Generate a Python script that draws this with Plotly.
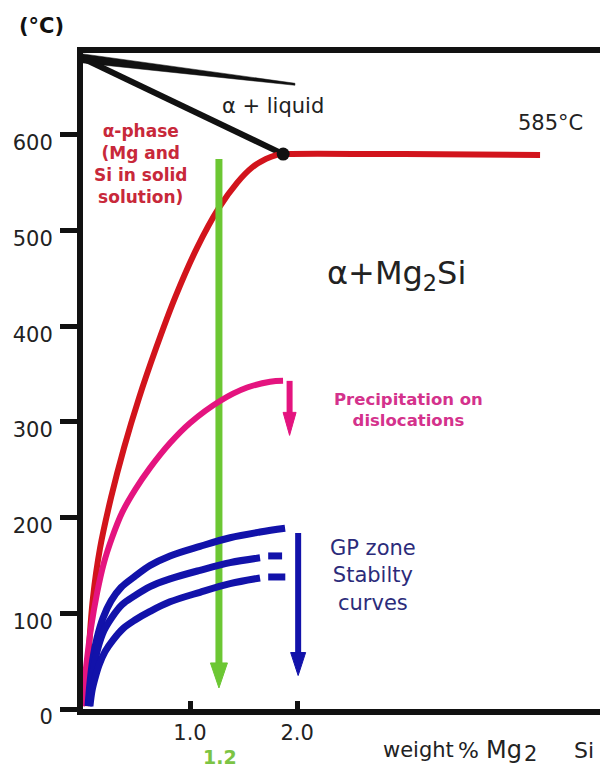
import plotly.graph_objects as go

# ---------------- data ----------------
y_ticks = [0, 100, 200, 300, 400, 500, 600]
x_ticks = [1.0, 2.0]
x_tick_labels = ["1.0", "2.0"]

# melting point of Al and eutectic point
melt_x, melt_y = 0.0, 680
eutectic_x, eutectic_y = 1.87, 580
liquidus_end_x, liquidus_end_y = 1.98, 653

# solvus (red) incl. eutectic horizontal
solvus_x = [0.028, 0.056, 0.093, 0.159, 0.262, 0.383, 0.523, 0.682, 0.860, 1.065,
            1.271, 1.439, 1.579, 1.710, 1.804, 1.869, 3.0, 4.27]
solvus_y = [3, 64, 116, 168, 221, 273, 325, 377, 430, 482,
            524, 550, 566, 575, 579, 580, 580, 579]

# precipitation on dislocations (pink)
precip_x = [-0.009, 0.028, 0.075, 0.131, 0.196, 0.271, 0.364, 0.486, 0.626, 0.813,
            1.0, 1.280, 1.533, 1.748, 1.869]
precip_y = [3, 43, 85, 121, 153, 179, 205, 229, 252, 278,
            299, 322, 336, 342, 343]

# GP zone stability curves (blue)
gp1_x = [0.047, 0.065, 0.093, 0.131, 0.187, 0.262, 0.355, 0.477, 0.626, 0.813,
         1.093, 1.374, 1.654, 1.888]
gp1_y = [3, 27, 53, 74, 95, 113, 127, 138, 150, 160,
         170, 179, 185, 189]
gp2_x = [0.056, 0.075, 0.103, 0.140, 0.196, 0.271, 0.364, 0.477, 0.626, 0.813,
         1.093, 1.374, 1.654]
gp2_y = [3, 24, 45, 64, 82, 96, 109, 118, 128, 136,
         145, 153, 158]
gp3_x = [0.065, 0.084, 0.112, 0.150, 0.206, 0.280, 0.374, 0.486, 0.626, 0.813,
         1.093, 1.374, 1.654]
gp3_y = [3, 19, 32, 46, 60, 72, 84, 93, 102, 112,
         122, 131, 137]
gp2_dash_x = [1.73, 1.86]
gp2_dash_y = [160, 160]
gp3_dash_x = [1.73, 1.89]
gp3_dash_y = [138, 138]

# vertical arrows: x, start y, end (tip) y
green_arrow = (1.27, 575, 22)
pink_arrow = (1.93, 343, 286)
blue_arrow = (2.01, 184, 35)

# ---------------- layout constants ----------------
W, H = 600, 767
ML, MR, MT, MB = 83, 0, 53, 58
PW, PH = W - ML - MR, H - MT - MB
X_MAX = 4.83
Y_MAX = 685.7
PPX = PW / X_MAX
PPY = PH / Y_MAX

FONT = "DejaVu Sans"
BLACK = "#111111"
RED = "#d2141c"
PINK = "#e4147f"
BLUE = "#1212aa"
GREEN = "#6cc733"

fig = go.Figure()


def line(xs, ys, color, width, spline=False):
    fig.add_trace(go.Scatter(
        x=xs, y=ys, mode="lines",
        line=dict(color=color, width=width, shape="spline" if spline else "linear",
                  smoothing=1.0),
        hoverinfo="skip", showlegend=False))


def arrow(spec, color, shaft_w, head_w, head_len):
    x, y0, y1 = spec
    hl = head_len / PPY
    hw = head_w / 2 / PPX
    line([x, x], [y0, y1 + hl * 0.8], color, shaft_w)
    fig.add_trace(go.Scatter(
        x=[x - hw, x + hw, x, x - hw], y=[y1 + hl, y1 + hl, y1, y1 + hl],
        mode="lines", fill="toself", fillcolor=color,
        line=dict(color=color, width=1), hoverinfo="skip", showlegend=False))


# liquidus: tapered black line
t0, t1 = 4.5 / PPY, 1.0 / PPY
fig.add_trace(go.Scatter(
    x=[melt_x, liquidus_end_x, liquidus_end_x, melt_x, melt_x],
    y=[melt_y + t0, liquidus_end_y + t1, liquidus_end_y - t1, melt_y - t0, melt_y + t0],
    mode="lines", fill="toself", fillcolor=BLACK, line=dict(color=BLACK, width=0.5),
    hoverinfo="skip", showlegend=False))

# solidus
line([melt_x, eutectic_x], [melt_y, eutectic_y], BLACK, 6)

# solvus
line(solvus_x, solvus_y, RED, 6, spline=True)

# green 1.2 % arrow
arrow(green_arrow, GREEN, 7, 17, 25)

# precipitation curve + arrow
line(precip_x, precip_y, PINK, 6, spline=True)
arrow(pink_arrow, PINK, 6, 13, 23)

# GP zone curves
line(gp1_x, gp1_y, BLUE, 7, spline=True)
line(gp2_x, gp2_y, BLUE, 7, spline=True)
line(gp3_x, gp3_y, BLUE, 7, spline=True)
line(gp2_dash_x, gp2_dash_y, BLUE, 7)
line(gp3_dash_x, gp3_dash_y, BLUE, 7)
arrow(blue_arrow, BLUE, 6, 15, 23)

# eutectic point
fig.add_trace(go.Scatter(x=[eutectic_x], y=[eutectic_y], mode="markers",
                         marker=dict(color=BLACK, size=13), cliponaxis=False,
                         hoverinfo="skip", showlegend=False))

# y-axis arrowhead
fig.add_trace(go.Scatter(x=[-3 / PPX], y=[Y_MAX + 2.5 / PPY], mode="markers",
                         marker=dict(color=BLACK, size=11, symbol="triangle-up"),
                         cliponaxis=False, hoverinfo="skip", showlegend=False))


def ann(text, px, py, size, color, xanchor="center", yanchor="middle"):
    return dict(text=text, x=(px - ML) / PW, y=(H - MB - py) / PH,
                xref="paper", yref="paper", showarrow=False,
                xanchor=xanchor, yanchor=yanchor,
                font=dict(family=FONT, size=size, color=color))


annotations = [
    ann("<b>(°C)</b>", 41, 26, 21, BLACK),
    ann("α\u00a0+\u00a0liquid", 273, 106, 21, "#222222"),
    ann("585°C", 550, 123, 21, "#222222"),
    ann("α+Mg<sub>2</sub>Si", 396, 275, 32, "#222222"),
    ann("<b>α-phase<br>(Mg and<br>Si in solid<br>solution)</b>", 140, 164, 17, "#c8283a"),
    ann("<b>Precipitation on<br>dislocations</b>", 408, 410, 16.5, "#d4328c"),
    ann("GP zone<br>Stabilty<br>curves", 373, 575, 21, "#2b2b7a"),
    ann("weight", 381, 750, 21, "#222222", xanchor="left"),
    ann("%", 468, 750, 22, "#222222"),
    ann("Mg", 484, 750, 24, "#222222", xanchor="left"),
    ann("2", 522, 754, 21, "#222222", xanchor="left"),
    ann("Si", 572, 750, 22, "#222222", xanchor="left"),
    ann("<b>1.2</b>", 220, 757, 19, "#7cc444"),
]

fig.update_layout(
    width=W, height=H,
    margin=dict(l=ML, r=MR, t=MT, b=MB, pad=0),
    paper_bgcolor="white", plot_bgcolor="white",
    showlegend=False,
    annotations=annotations,
    xaxis=dict(range=[0, X_MAX], showgrid=False, zeroline=False,
               showline=True, linewidth=6, linecolor=BLACK, mirror=True,
               ticks="inside", ticklen=8, tickwidth=5, tickcolor=BLACK,
               tickvals=x_ticks, ticktext=x_tick_labels,
               tickfont=dict(family=FONT, size=21, color="#222222"),
               fixedrange=True),
    yaxis=dict(range=[0, Y_MAX], showgrid=False, zeroline=False,
               showline=True, linewidth=6, linecolor=BLACK,
               ticks="outside", ticklen=17, tickwidth=5, tickcolor=BLACK,
               tickvals=y_ticks,
               tickfont=dict(family=FONT, size=21, color="#222222"),
               ticklabelshift=8, ticklabelstandoff=3,
               fixedrange=True),
)

fig.write_html("out.html", config={"displayModeBar": False})
